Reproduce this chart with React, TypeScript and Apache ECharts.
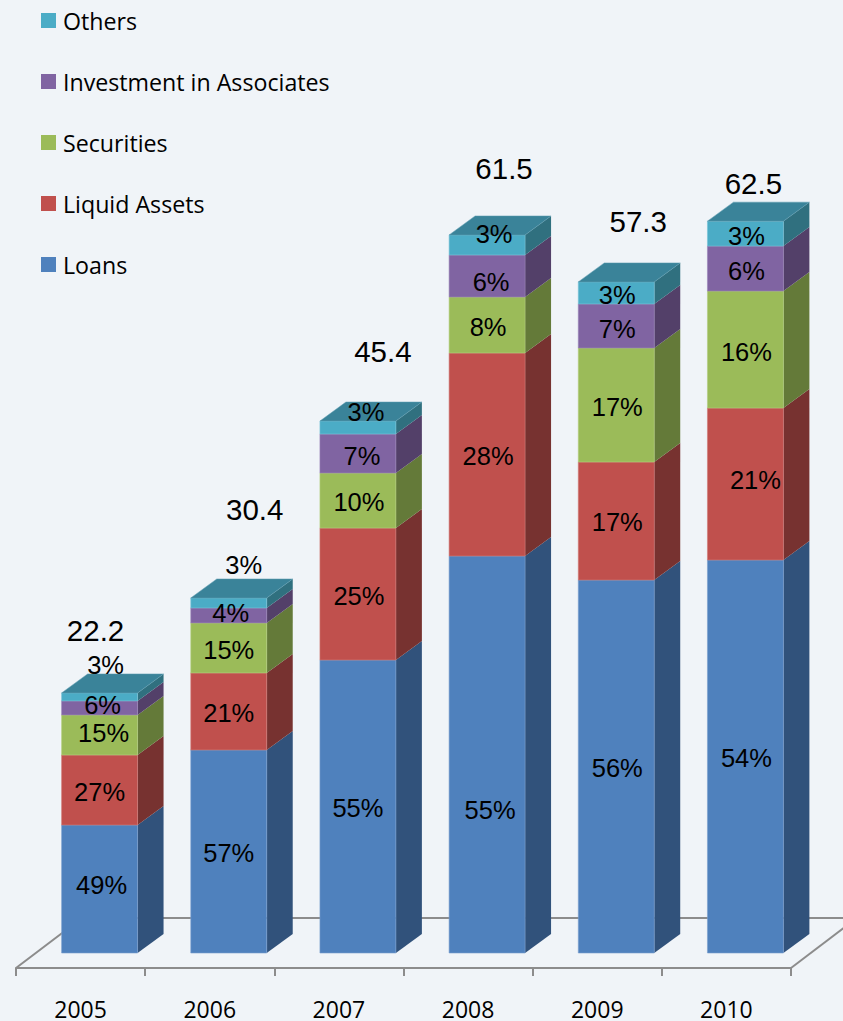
import React, { useEffect, useRef } from "react";
import * as echarts from "echarts";

const years = ["2005", "2006", "2007", "2008", "2009", "2010"];
const totals = [22.2, 30.4, 45.4, 61.5, 57.3, 62.5];

// Printed shares
const loansShare = [49, 57, 55, 55, 56, 54];
const liquidShare = [27, 21, 25, 28, 17, 21];
const securitiesShare = [15, 15, 10, 8, 17, 16];
const associatesShare = [6, 4, 7, 6, 7, 6];
const othersShare = [3, 3, 3, 3, 3, 3];

// Segment sizes
const loansValues = [10.93, 17.34, 25.02, 33.9, 31.85, 33.56];
const liquidValues = [5.98, 6.58, 11.27, 17.34, 10.08, 12.98];
const securitiesValues = [3.42, 4.27, 4.7, 4.78, 9.74, 9.99];
const associatesValues = [1.2, 1.28, 3.33, 3.59, 3.76, 3.84];
const othersValues = [0.68, 0.85, 1.11, 1.71, 1.88, 2.13];

const stack = [
  { name: "Loans", values: loansValues, shares: loansShare, front: "#4f81bd", side: "#31527b", edge: "#7ba0cf" },
  { name: "Liquid Assets", values: liquidValues, shares: liquidShare, front: "#c0504d", side: "#773230", edge: "#d07a77" },
  { name: "Securities", values: securitiesValues, shares: securitiesShare, front: "#9bbb59", side: "#647a39", edge: "#b4cf7e" },
  { name: "Investment in Associates", values: associatesValues, shares: associatesShare, front: "#8064a2", side: "#534069", edge: "#9b84b8" },
  { name: "Others", values: othersValues, shares: othersShare, front: "#4bacc6", side: "#30707f", edge: "#78c3d7" },
];
const topColor = "#3a8399";
const legendOrder = ["Others", "Investment in Associates", "Securities", "Liquid Assets", "Loans"];

// Layout of the pseudo-3D drawing, in pixels
const DEPTH_X = 26;
const DEPTH_Y = 19;
const SHIFT_X = 19;
const SHIFT_Y = -15;
const BAR_RATIO = 0.588;

// Hand placement of labels, relative to the middle of their segment [dx, dy], per stack level then year
const labelNudges = [
  [[2, -4], [0, 2], [0, 1], [3, 55.5], [1, 1], [1, 1]],
  [[0, 2], [0, 2], [1, 2], [1, 1], [1, 1], [10, -4]],
  [[4, -2], [0, 2], [1, 1.5], [1, 2], [1, 2], [1, 2]],
  [[3, -3], [2, -2.5], [4, 2.5], [4, 6], [1, 3], [1, 2.5]],
  [[6, -32], [15, -38], [8, -15.5], [7, -11], [1, 2], [1, 2.5]],
];
// Total labels, relative to the top of the stack's front face
const totalNudges = [[-4, -62], [26, -88], [25, -70], [17, -66], [22, -60], [8, -38]];

const pctFont = "25.5px 'Liberation Sans', Arial, sans-serif";
const totalFont = "29.5px 'Liberation Sans', Arial, sans-serif";

function segment(level: number) {
  return years.map((_, i) => {
    let below = 0;
    for (let l = 0; l < level; l++) below += stack[l].values[i];
    return [i, below, below + stack[level].values[i]];
  });
}

export default function App() {
  const ref = useRef<HTMLDivElement>(null);
  useEffect(() => {
    document.body.style.margin = "0";
    document.body.style.overflow = "hidden";
    const chart = echarts.init(ref.current!, undefined, { renderer: "svg" });

    const barSeries = stack.map((s, level) => ({
      type: "custom",
      name: s.name,
      z: 3 + level,
      silent: true,
      itemStyle: { color: s.front },
      data: segment(level),
      renderItem: (_p: any, api: any) => {
        const i = api.value(0);
        const w = api.size([1, 0])[0] * BAR_RATIO;
        const [cx, y0raw] = api.coord([i, api.value(1)]);
        const [, y1raw] = api.coord([i, api.value(2)]);
        const x0 = cx + SHIFT_X - w / 2;
        const x1 = x0 + w;
        const y0 = y0raw + SHIFT_Y;
        const y1 = y1raw + SHIFT_Y;
        const children: any[] = [
          {
            type: "polygon",
            shape: { points: [[x1, y0], [x1 + DEPTH_X, y0 - DEPTH_Y], [x1 + DEPTH_X, y1 - DEPTH_Y], [x1, y1]] },
            style: { fill: s.side },
          },
          {
            type: "rect",
            shape: { x: x0, y: y1, width: w, height: y0 - y1 },
            style: { fill: s.front, stroke: s.edge, lineWidth: 0.6 },
          },
        ];
        if (level === stack.length - 1) {
          children.push({
            type: "polygon",
            shape: { points: [[x0, y1], [x0 + DEPTH_X, y1 - DEPTH_Y], [x1 + DEPTH_X, y1 - DEPTH_Y], [x1, y1]] },
            style: { fill: topColor, stroke: "#5f9db0", lineWidth: 0.5 },
          });
        }
        return { type: "group", children };
      },
    }));

    const labelData: number[][] = [];
    stack.forEach((s, level) => {
      segment(level).forEach((d) => labelData.push([d[0], (d[1] + d[2]) / 2, level]));
    });

    const labelSeries = {
      type: "custom",
      name: "shareLabels",
      z: 10,
      silent: true,
      data: labelData,
      renderItem: (_p: any, api: any) => {
        const i = api.value(0);
        const level = api.value(2);
        const [cx, cy] = api.coord([i, api.value(1)]);
        const nudge = labelNudges[level][i];
        return {
          type: "text",
          style: {
            text: stack[level].shares[i] + "%",
            x: cx + SHIFT_X + nudge[0],
            y: cy + SHIFT_Y + nudge[1],
            font: pctFont,
            fill: "#000",
            align: "center",
            verticalAlign: "middle",
          },
        };
      },
    };

    const stackTops = years.map((_, i) => segment(stack.length - 1)[i][2]);

    const totalSeries = {
      type: "custom",
      name: "totalLabels",
      z: 11,
      silent: true,
      data: stackTops.map((t, i) => [i, t]),
      renderItem: (p: any, api: any) => {
        const i = api.value(0);
        const [cx, cy] = api.coord([i, api.value(1)]);
        const nudge = totalNudges[i];
        return {
          type: "text",
          style: {
            text: totals[p.dataIndex].toFixed(1),
            x: cx + SHIFT_X + nudge[0],
            y: cy + SHIFT_Y + nudge[1],
            font: totalFont,
            fill: "#000",
            align: "center",
            verticalAlign: "middle",
          },
        };
      },
    };

    chart.setOption({
      animation: false,
      backgroundColor: "#f0f4f8",
      grid: { left: 16, width: 775, top: 31.2, height: 936.8, containLabel: false },
      legend: {
        orient: "vertical",
        left: 41,
        top: 5,
        padding: 0,
        data: legendOrder,
        icon: "rect",
        itemWidth: 15,
        itemHeight: 15,
        itemGap: 30,
        selectedMode: false,
        textStyle: {
          fontFamily: "'Open Sans', sans-serif",
          fontSize: 23.2,
          color: "#000",
          padding: [0, 0, 0, 2],
          lineHeight: 31,
        },
      },
      xAxis: {
        type: "category",
        data: years,
        boundaryGap: true,
        axisLine: { show: true, lineStyle: { color: "#8c8c8c", width: 2 } },
        axisTick: { show: true, length: 8, lineStyle: { color: "#8c8c8c", width: 2 } },
        axisLabel: {
          show: true,
          margin: 31,
          lineHeight: 20,
          fontFamily: "'Open Sans', sans-serif",
          fontSize: 23,
          color: "#000",
        },
      },
      yAxis: { type: "value", min: 0, max: 80, interval: 20, show: false },
      graphic: [
        {
          type: "polyline",
          silent: true,
          z: 0,
          shape: { points: [[16, 968], [82, 918], [843, 918]] },
          style: { fill: "none", stroke: "#8c8c8c", lineWidth: 2 },
        },
        {
          type: "line",
          silent: true,
          z: 0,
          shape: { x1: 791, y1: 968, x2: 857, y2: 918 },
          style: { stroke: "#8c8c8c", lineWidth: 2 },
        },
      ],
      series: [...barSeries, labelSeries, totalSeries],
    });
    return () => chart.dispose();
  }, []);
  return <div ref={ref} style={{ width: 843, height: 1021 }} />;
}
